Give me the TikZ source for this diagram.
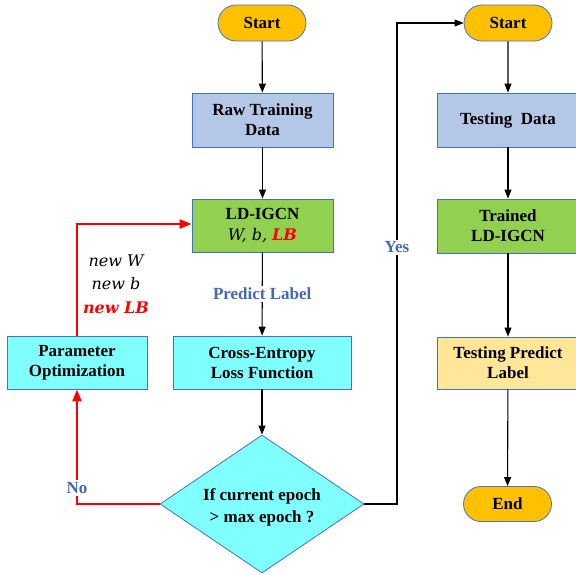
\documentclass[tikz,border=0pt]{standalone}
\usepackage{fontspec}
\setmainfont{Liberation Serif}
\newfontfamily\dvsfont{DejaVu Serif}
\usetikzlibrary{shapes.misc,shapes.geometric,arrows.meta}
\definecolor{bordblue}{HTML}{4472C4}
\definecolor{termorange}{HTML}{FFC000}
\definecolor{lightblue}{HTML}{B4C7E7}
\definecolor{greenf}{HTML}{92D050}
\definecolor{cyanf}{HTML}{80FFFF}
\definecolor{yellowf}{HTML}{FFE699}
\definecolor{labblue}{HTML}{4468B4}
\tikzset{
  base/.style={draw=bordblue, line width=0.8pt, align=center, text=black,
    font=\fontsize{17}{20}\selectfont\bfseries, inner sep=0pt},
  boxn/.style={base, rectangle, minimum width=141pt, minimum height=54pt},
  term/.style={base, rounded rectangle, fill=termorange, minimum width=88pt, minimum height=36pt},
  arr/.style={-{Triangle[length=9pt,width=7pt]}, line width=1.1pt, black},
  redarr/.style={-{Triangle[length=12pt,width=9pt]}, line width=2.4pt, red},
  lbl/.style={font=\fontsize{17}{20}\selectfont\bfseries, text=labblue, fill=white, inner sep=2pt},
  itl/.style={font=\dvsfont\itshape\fontsize{16}{23.5}\selectfont, align=center},
  dtext/.style={align=center, font=\fontsize{17}{22}\selectfont\bfseries, inner sep=0pt}
}
\begin{document}
\begin{tikzpicture}[x=1pt,y=-1pt]
\useasboundingbox (0,0) rectangle (576,574);
% left column
\node[term] (s1) at (262,23) {Start};
\node[boxn, fill=lightblue] (raw) at (262.5,120) {Raw Training\\Data};
\node[boxn, fill=greenf, minimum height=53pt] (ld) at (262.5,225.5) {LD-IGCN\\[1pt]{\dvsfont\itshape\mdseries\fontsize{16}{20}\selectfont W, b, \textcolor{red}{\bfseries LB}}};
\node[boxn, fill=cyanf, minimum width=178pt, minimum height=53pt] (ce) at (262,362.5) {Cross-Entropy\\Loss Function};
\node[boxn, fill=cyanf, minimum width=140pt, minimum height=53pt] (po) at (77,362.5) {Parameter\\Optimization};
\node[base, diamond, fill=cyanf, minimum width=204pt, minimum height=138pt] (dia) at (262,504) {};
\node[dtext] (diat) at (262,507) {If current epoch\\{>} max epoch ?};
% right column
\node[term] (s2) at (508,23) {Start};
\node[boxn, fill=lightblue] (test) at (508,120) {Testing\ \ Data};
\node[boxn, fill=greenf] (tr) at (508,226) {Trained\\LD-IGCN};
\node[boxn, fill=yellowf, minimum height=52pt] (tpl) at (508,363) {Testing Predict\\Label};
\node[term, minimum height=35pt] (end) at (507.5,504) {End};
% parameter labels
\node[itl] (newp) at (116,284) {new W\\new b\\\textcolor{red}{\bfseries new LB}};
% connectors
\draw[arr] (s1) -- (raw);
\draw[arr] (raw) -- (ld);
\draw[arr] (ld) -- node[lbl] (pl) {Predict Label} (ce);
\draw[arr] (ce) -- (dia);
\draw[redarr] (dia.west) -| node[lbl, pos=0.57] (no) {No} (po.south);
\draw[redarr] (po.north) |- ([yshift=1.5pt]ld.west);
\coordinate (yc) at (397,504);
\draw[arr] (dia.east) -- (yc) |- node[lbl, pos=0.267] (yes) {Yes} (s2.west);
\draw[arr] (s2) -- (test);
\draw[arr] (test) -- (tr);
\draw[arr] (tr) -- (tpl);
\draw[arr] (tpl) -- (end);
\end{tikzpicture}
\end{document}
